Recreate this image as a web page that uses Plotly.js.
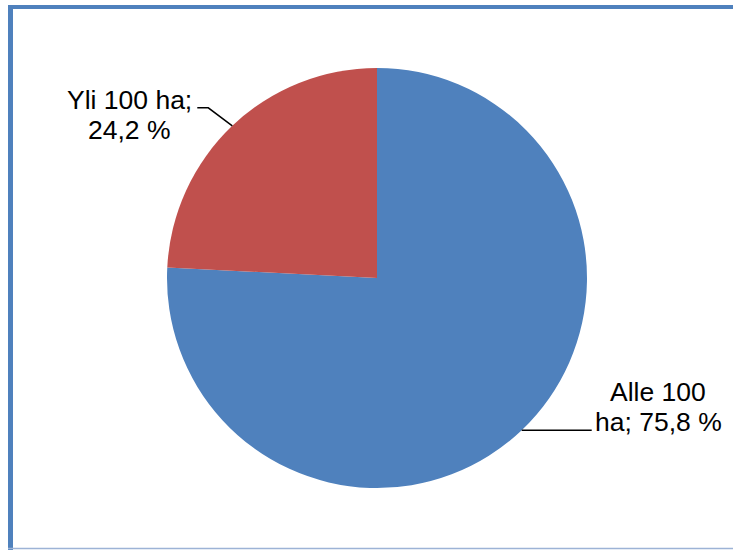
<!DOCTYPE html>
<html>
<head>
<meta charset="utf-8">
<script src="https://cdn.plot.ly/plotly-3.0.1.min.js"></script>
<style>html,body{margin:0;padding:0;background:#fff;}#chart{width:733px;height:550px;}</style>
</head>
<body>
<div id="chart"></div>
<script>
// Data
const labels = ['Alle 100 ha', 'Yli 100 ha'];
const values = [75.8, 24.2];
const labelLines = [['Alle 100', 'ha; 75,8 %'], ['Yli 100 ha;', '24,2 %']];
const colors = ['#4F81BD', '#C0504D'];

// Layout geometry (pixels)
const W = 733, H = 550;
const cx = 377, cy = 278, R = 210;
// leader-line styling per slice: elbow offset, final horizontal run, text center x, line center ys
const leaderStyle = [
  {elbow: [0, 0], run: 70, tx: 658, ty: [392, 422]},
  {elbow: [-24, -18], run: -11, tx: 129, ty: [100, 130]}
];

const px = x => x / W;
const py = y => 1 - y / H;

const total = values.reduce((a, b) => a + b, 0);
let cum = 0;
const shapes = [];
const annotations = [];
values.forEach((v, i) => {
  const mid = (cum + v / 2) / total;
  cum += v;
  const th = 2 * Math.PI * mid;
  const ex = cx + R * Math.sin(th);
  const ey = cy - R * Math.cos(th);
  const s = leaderStyle[i];
  const bx = ex + s.elbow[0], by = ey + s.elbow[1];
  const fx = bx + s.run, fy = by;
  shapes.push({type: 'path', xref: 'paper', yref: 'paper',
    path: `M ${px(ex)} ${py(ey)} L ${px(bx)} ${py(by)} L ${px(fx)} ${py(fy)}`,
    line: {color: '#000', width: 1.5}});
  labelLines[i].forEach((t, j) => {
    annotations.push({xref: 'paper', yref: 'paper', x: px(s.tx), y: py(s.ty[j]),
      xanchor: 'center', yanchor: 'middle', showarrow: false, align: 'center',
      text: t, font: {family: 'Liberation Sans, Arial, sans-serif', size: 26.5, color: '#000'}});
  });
});

// Frame
shapes.push({type: 'rect', xref: 'paper', yref: 'paper', x0: px(8), x1: px(13), y0: py(550), y1: py(5), fillcolor: '#4F81BD', line: {width: 0}});
shapes.push({type: 'rect', xref: 'paper', yref: 'paper', x0: px(8), x1: px(733), y0: py(9), y1: py(5), fillcolor: '#4F81BD', line: {width: 0}});
shapes.push({type: 'line', xref: 'paper', yref: 'paper', x0: px(8), x1: px(733), y0: py(548.5), y1: py(548.5), line: {color: '#9DB3D6', width: 1.5}});

const trace = {
  type: 'pie', labels: labels, values: values, sort: false, direction: 'clockwise', rotation: 0,
  marker: {colors: colors, line: {width: 0}},
  textinfo: 'none', hoverinfo: 'label+percent',
  domain: {x: [px(cx - R), px(cx + R)], y: [py(cy + R), py(cy - R)]},
  showlegend: false
};

Plotly.newPlot('chart', [trace], {
  width: W, height: H, margin: {l: 0, r: 0, t: 0, b: 0},
  paper_bgcolor: '#fff', plot_bgcolor: '#fff', showlegend: false,
  shapes: shapes, annotations: annotations
}, {displayModeBar: false, staticPlot: true});
</script>
</body>
</html>
